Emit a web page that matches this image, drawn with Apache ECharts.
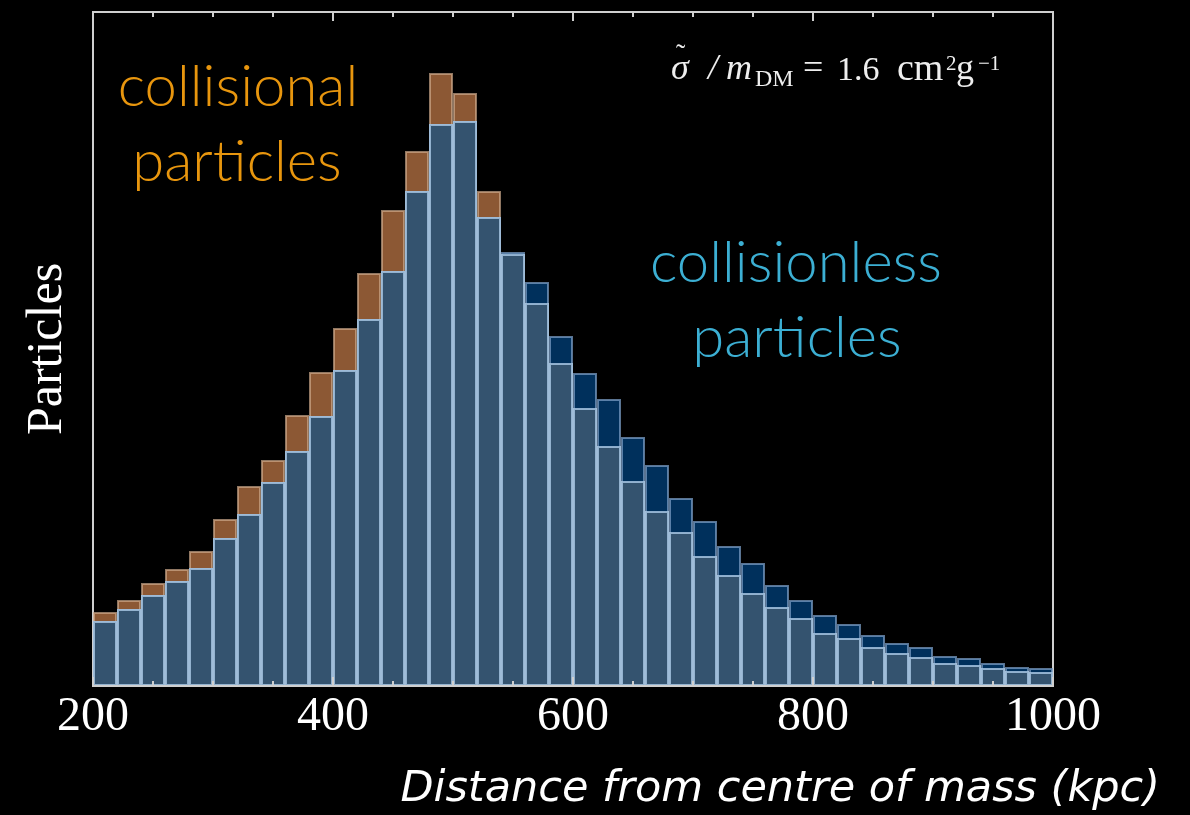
<!DOCTYPE html>
<html lang="en">
<head>
    <meta charset="UTF-8">
    <title>Particles vs distance</title>
    <script src="https://cdn.jsdelivr.net/npm/echarts@6/dist/echarts.min.js"></script>
    <style>
        html, body { margin: 0; padding: 0; background: #000; }
        #main { width: 1190px; height: 815px; }
    </style>
</head>
<body>
    <div id="main"></div>
    <script type="text/javascript">
        // bins of 20 kpc from 200 to 1000, value = bin centre
        var binCentres = [];
        for (var c = 210; c < 1000; c += 20) binCentres.push(c);

        // heights (arbitrary units)
        var collisional = [74, 86, 103, 117, 135, 167, 200, 226, 271, 314,
                           358, 413, 476, 535, 613, 593, 495, 432, 383, 323,
                           278, 240, 205, 175, 154, 130, 111, 93, 79, 68,
                           53, 48, 39, 33, 29, 23, 21, 18, 15, 14];
        var collisionless = [65, 77, 91, 105, 118, 148, 172, 204, 235, 270,
                             316, 367, 415, 495, 562, 565, 469, 434, 404, 350,
                             313, 287, 249, 221, 188, 165, 140, 123, 101, 86,
                             71, 62, 51, 43, 39, 30, 28, 23, 19, 18];
        var xTicks = [200, 400, 600, 800, 1000];

        function pairs(vals) {
            return vals.map(function (v, i) { return [binCentres[i], v]; });
        }
        var overlap = collisional.map(function (v, i) { return Math.min(v, collisionless[i]); });

        var myChart = echarts.init(document.getElementById('main'));
        var axisCol = '#cfcfcf';
        var serif = 'Liberation Serif';

        // pieces of the cross-section formula: [text, x, y, size, italic]
        var formula = [
            ['σ', 671, 70, 36, true],
            ['\u02DC', 676, 56, 28, false],
            ['/', 708, 70, 36, true],
            ['m', 726, 70, 36, true],
            ['DM', 755, 80, 24, false],
            ['=', 803, 70, 36, false],
            ['1.6', 837, 71, 34, false],
            ['cm', 897, 70, 38, false],
            ['2', 946, 64, 21, false],
            ['g', 956, 70, 36, false],
            ['\u22121', 978, 64, 21, false]
        ];
        var formulaTexts = formula.map(function (f) {
            return {
                type: 'text', x: f[1], y: f[2],
                style: {
                    text: f[0], fill: '#eee', verticalAlign: 'middle',
                    font: (f[4] ? 'italic ' : '') + f[3] + 'px "Liberation Serif"'
                }
            };
        });

        var option = {
            backgroundColor: '#000',
            animation: false,
            grid: {
                left: 93, right: 137, top: 12, bottom: 129,
                show: true, borderColor: axisCol, borderWidth: 2
            },
            xAxis: [{
                type: 'value', min: xTicks[0], max: xTicks[xTicks.length - 1], interval: 200,
                z: 5,
                axisLine: { lineStyle: { color: axisCol, width: 2 } },
                axisTick: { inside: true, length: 9, lineStyle: { color: axisCol, width: 2 } },
                minorTick: { show: true, splitNumber: 4, length: 5, lineStyle: { color: axisCol, width: 2 } },
                splitLine: { show: false },
                axisLabel: {
                    color: '#fff', fontFamily: serif, fontSize: 48, margin: 7,
                    showMinLabel: true, showMaxLabel: true,
                    formatter: function (v) { return String(v); }
                }
            }, {
                type: 'value', position: 'top', min: xTicks[0], max: xTicks[xTicks.length - 1], interval: 200,
                z: 5,
                axisLine: { lineStyle: { color: axisCol, width: 2 } },
                axisTick: { inside: true, length: 9, lineStyle: { color: axisCol, width: 2 } },
                minorTick: { show: true, splitNumber: 4, length: 5, lineStyle: { color: axisCol, width: 2 } },
                splitLine: { show: false },
                axisLabel: { show: false }
            }],
            yAxis: {
                type: 'value', min: 0, max: 674,
                name: 'Particles', nameLocation: 'middle', nameGap: 20,
                nameTextStyle: { color: '#fff', fontFamily: serif, fontSize: 50 },
                axisLine: { show: true, lineStyle: { color: axisCol, width: 2 } },
                axisTick: { show: false },
                axisLabel: { show: false },
                splitLine: { show: false }
            },
            series: [{
                name: 'collisional', type: 'bar', data: pairs(collisional),
                barWidth: '100%', barGap: '-100%',
                itemStyle: { color: '#8c5834', borderColor: 'rgba(205,170,140,0.7)', borderWidth: 2 }
            }, {
                name: 'collisionless', type: 'bar', data: pairs(collisionless),
                barWidth: '100%', barGap: '-100%',
                itemStyle: { color: '#00305c', borderColor: 'rgba(120,155,195,0.75)', borderWidth: 2 }
            }, {
                name: 'overlap', type: 'bar', data: pairs(overlap),
                barWidth: '100%', barGap: '-100%',
                itemStyle: { color: '#34536f', borderColor: 'rgba(165,195,225,0.85)', borderWidth: 2 }
            }],
            graphic: [{
                type: 'text', x: 238, y: 87,
                style: { text: 'collisional', fill: '#e8960e', font: '300 58px Lato', align: 'center', verticalAlign: 'middle' }
            }, {
                type: 'text', x: 237, y: 162,
                style: { text: 'par\u200Cticles', fill: '#e8960e', font: '300 58px Lato', align: 'center', verticalAlign: 'middle' }
            }, {
                type: 'text', x: 796, y: 263,
                style: { text: 'collisionless', fill: '#3cafd3', font: '300 58px Lato', align: 'center', verticalAlign: 'middle' }
            }, {
                type: 'text', x: 797, y: 338,
                style: { text: 'par\u200Cticles', fill: '#3cafd3', font: '300 58px Lato', align: 'center', verticalAlign: 'middle' }
            }, {
                type: 'text', x: 1160, y: 790,
                style: {
                    text: 'Distance from centre of mass (kpc)', fill: '#fff',
                    font: 'oblique 43px "DejaVu Sans"', align: 'right', verticalAlign: 'middle'
                }
            }].concat(formulaTexts)
        };

        myChart.setOption(option);
    </script>
</body>
</html>
